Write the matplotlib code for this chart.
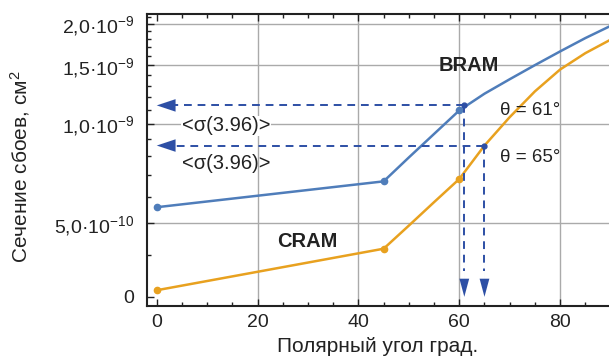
import matplotlib
matplotlib.use("Agg")
import matplotlib.pyplot as plt
from matplotlib.ticker import FixedLocator, FixedFormatter

plt.rcParams['font.family'] = ['Liberation Sans', 'DejaVu Sans']
plt.rcParams['mathtext.fontset'] = 'custom'
plt.rcParams['mathtext.rm'] = 'Liberation Sans'
plt.rcParams['mathtext.it'] = 'Liberation Sans:italic'

# данные, угол в градусах, сечение в см^2
angle = [0, 45, 50, 55, 60, 65, 70, 75, 80, 85, 90]
bram = [5.59e-10, 6.69e-10, 7.9e-10, 9.3e-10, 1.095e-9, 1.23e-9,
        1.36e-9, 1.50e-9, 1.65e-9, 1.81e-9, 1.97e-9]
cram = [3.14e-10, 4.19e-10, 4.92e-10, 5.79e-10, 6.8e-10, 8.58e-10,
        1.045e-9, 1.25e-9, 1.455e-9, 1.63e-9, 1.79e-9]
marked = [0, 1, 4]

theta_bram, sigma_bram = 61, 1.134e-9
theta_cram, sigma_cram = 65, 0.858e-9
sigma_label = '<σ(3.96)>'

x_ticks = [0, 20, 40, 60, 80]
y_ticks = [3e-10, 5e-10, 1e-9, 1.5e-9, 2e-9]
y_labels = ['0', '5,0\u00b710$^{-10}$', '1,0\u00b710$^{-9}$',
            '1,5\u00b710$^{-9}$', '2,0\u00b710$^{-9}$']
y_minor = [i * 1e-10 for i in range(3, 22)]

blue = '#4f7dba'
orange = '#e8a11f'
dark_blue = '#2d4fa5'
txt = '#222222'

fig = plt.figure(figsize=(6.09, 3.58), dpi=100)
ax = fig.add_axes([146.7 / 609, 1 - 305.7 / 358, 1 - 146.7 / 609, 291.7 / 358])

ax.set_yscale('log')
ax.set_xlim(-2, 89.7)
ax.set_ylim(2.82e-10, 2.14e-9)

ax.plot(angle, bram, color=blue, lw=1.8, marker='o', ms=4.5, markevery=marked, zorder=3)
ax.plot(angle, cram, color=orange, lw=1.8, marker='o', ms=4.5, markevery=marked, zorder=3)

# пунктирные стрелки
y_bottom = y_ticks[0]
for th, sg in [(theta_bram, sigma_bram), (theta_cram, sigma_cram)]:
    ax.plot([th, 3.5], [sg, sg], color=dark_blue, lw=1.4, ls=(0, (4, 3)), zorder=4)
    ax.plot([th, th], [sg, y_bottom * 1.2], color=dark_blue, lw=1.4, ls=(0, (4, 3)), zorder=4)
    ax.annotate('', xy=(0, sg), xytext=(4.0, sg),
                arrowprops=dict(arrowstyle='-|>,head_length=1.35,head_width=0.45',
                                color=dark_blue, lw=0.01, shrinkA=0, shrinkB=0), zorder=5)
    ax.annotate('', xy=(th, y_bottom * 1.0), xytext=(th, y_bottom * 1.25),
                arrowprops=dict(arrowstyle='-|>,head_length=1.3,head_width=0.35',
                                color=dark_blue, lw=0.01, shrinkA=0, shrinkB=0), zorder=5)
    ax.plot([th], [sg], 'o', color=dark_blue, ms=3.5, zorder=6)

bbox = dict(facecolor='white', edgecolor='none', pad=0.5)
ax.text(5.0, 0.985e-9, sigma_label, fontsize=14.5, color=txt, va='center', ha='left', bbox=bbox, zorder=2)
ax.text(5.0, 0.757e-9, sigma_label, fontsize=14.5, color=txt, va='center', ha='left', zorder=2)
ax.text(56.0, 1.5e-9, 'BRAM', fontsize=14.5, fontweight='bold', color=txt, va='center', ha='left')
ax.text(23.9, 4.41e-10, 'CRAM', fontsize=14.5, fontweight='bold', color=txt, va='center', ha='left')
ax.text(68.1, 1.095e-9, 'θ = 61°', fontsize=13.5, color=txt, va='center', ha='left')
ax.text(68.1, 0.789e-9, 'θ = 65°', fontsize=13.5, color=txt, va='center', ha='left')

# оси
ax.xaxis.set_major_locator(FixedLocator(x_ticks))
ax.xaxis.set_minor_locator(FixedLocator(list(range(0, 91, 5))))
ax.yaxis.set_major_locator(FixedLocator(y_ticks))
ax.yaxis.set_major_formatter(FixedFormatter(y_labels))
ax.yaxis.set_minor_locator(FixedLocator(y_minor))
ax.yaxis.set_minor_formatter(FixedFormatter([''] * len(y_minor)))

ax.tick_params(which='both', direction='in', top=True, right=False, colors=txt,
               labelsize=14, width=1.0)
ax.tick_params(which='major', length=5)
ax.tick_params(which='minor', length=3)
ax.tick_params(axis='y', pad=9)
ax.tick_params(axis='x', pad=6)

ax.grid(True, which='major', color='#aaaaaa', lw=1.0)
ax.xaxis.get_gridlines()[0].set_visible(False)
ax.yaxis.get_gridlines()[0].set_visible(False)

for side in ['left', 'bottom', 'top']:
    ax.spines[side].set_linewidth(1.5)
    ax.spines[side].set_color(txt)
ax.spines['right'].set_visible(False)

ax.set_xlabel('Полярный угол град.', fontsize=15, color=txt, labelpad=4)
fig.text(20 / 609, 1 - 167 / 358, 'Сечение сбоев, см$^2$', fontsize=15, color=txt,
         rotation=90, ha='center', va='center')

fig.savefig('out.png', dpi=100)
